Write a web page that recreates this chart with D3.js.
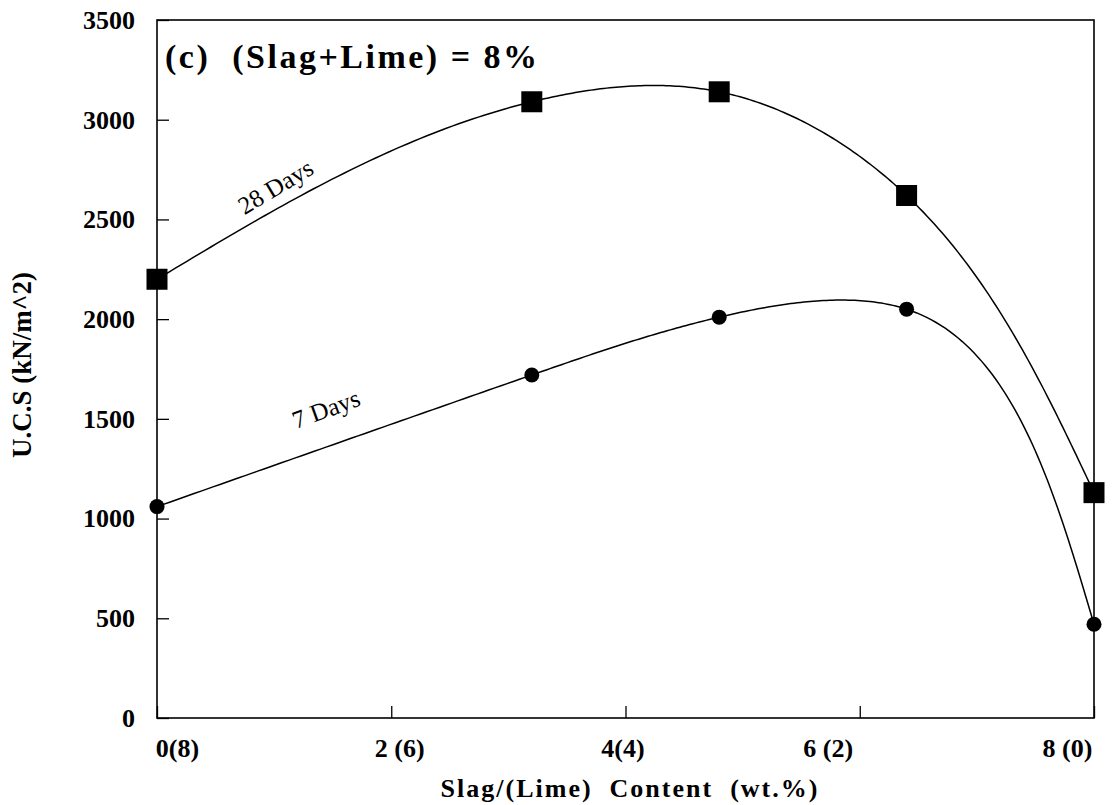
<!DOCTYPE html>
<html>
<head>
<meta charset="utf-8">
<script src="https://cdn.jsdelivr.net/npm/d3@7"></script>
<style>
  html, body { margin: 0; padding: 0; background: #fff; }
  svg { display: block; }
  text { font-family: "Liberation Serif", "Times New Roman", serif; fill: #000; }
</style>
</head>
<body>
<svg id="chart" width="1114" height="805"></svg>
<script>
// Slag content (wt.%) — lime content is 8 minus this
const slagContent = [0, 3.2, 4.8, 6.4, 8];
const ucs28Days = [2200, 3090, 3140, 2620, 1130];
const ucs7Days = [1060, 1720, 2010, 2050, 470];
const xTickValues = [0, 2, 4, 6, 8];
const xTickLabels = ["0(8)", "2 (6)", "4(4)", "6 (2)", "8 (0)"];
const yTickValues = [0, 500, 1000, 1500, 2000, 2500, 3000, 3500];

// horizontal nudge of each x tick label relative to its tick
const xLabelShift = [20, 8, -3, -32, -27];
const SERIF = "Liberation Serif, Times New Roman, serif";

const svg = d3.select("#chart");

const x = d3.scaleLinear().domain([0, 8]).range([157, 1094]);
const y = d3.scaleLinear().domain([0, 3500]).range([718, 20]);

// frame
svg.append("rect")
  .attr("x", x(0)).attr("y", y(3500))
  .attr("width", x(8) - x(0)).attr("height", y(0) - y(3500))
  .attr("fill", "none").attr("stroke", "#000").attr("stroke-width", 1.6);

// axes with inward ticks
const xAxis = svg.append("g").attr("transform", `translate(0,${y(0)})`)
  .call(d3.axisBottom(x).tickValues(xTickValues).tickSize(-12).tickPadding(0)
    .tickFormat((d, i) => xTickLabels[i]));
xAxis.select(".domain").remove();
xAxis.selectAll("text")
  .attr("y", 39).attr("dy", null)
  .attr("dx", (d, i) => xLabelShift[i])
  .attr("font-size", 26).attr("font-weight", "bold")
  .style("font-family", SERIF);
xAxis.selectAll("line").attr("stroke-width", 1.3);

const yAxis = svg.append("g").attr("transform", `translate(${x(0)},0)`)
  .call(d3.axisLeft(y).tickValues(yTickValues).tickSize(-12).tickPadding(22)
    .tickFormat(d3.format("d")));
yAxis.select(".domain").remove();
yAxis.selectAll("text").attr("font-size", 26).attr("font-weight", "bold")
  .style("font-family", SERIF);
yAxis.selectAll("line").attr("stroke-width", 1.3);

// parametric natural cubic spline (chord-length knots) through screen points
function splinePoints(pts, steps) {
  const n = pts.length;
  const t = [0];
  for (let i = 1; i < n; i++) {
    t.push(t[i - 1] + Math.hypot(pts[i][0] - pts[i - 1][0], pts[i][1] - pts[i - 1][1]));
  }
  function secondDerivs(v) {
    const h = d3.range(n - 1).map(i => t[i + 1] - t[i]);
    const a = new Array(n).fill(0), b = new Array(n).fill(1), c = new Array(n).fill(0), r = new Array(n).fill(0);
    for (let i = 1; i < n - 1; i++) {
      a[i] = h[i - 1];
      b[i] = 2 * (h[i - 1] + h[i]);
      c[i] = h[i];
      r[i] = 6 * ((v[i + 1] - v[i]) / h[i] - (v[i] - v[i - 1]) / h[i - 1]);
    }
    // Thomas algorithm
    for (let i = 1; i < n; i++) {
      const m = a[i] / b[i - 1];
      b[i] -= m * c[i - 1];
      r[i] -= m * r[i - 1];
    }
    const M = new Array(n).fill(0);
    M[n - 1] = r[n - 1] / b[n - 1];
    for (let i = n - 2; i >= 0; i--) M[i] = (r[i] - c[i] * M[i + 1]) / b[i];
    return M;
  }
  const xs = pts.map(p => p[0]), ys = pts.map(p => p[1]);
  const Mx = secondDerivs(xs), My = secondDerivs(ys);
  const out = [];
  for (let i = 0; i < n - 1; i++) {
    const h = t[i + 1] - t[i];
    for (let k = 0; k < steps; k++) {
      const tt = t[i] + h * k / steps;
      const A = (t[i + 1] - tt) / h, B = (tt - t[i]) / h;
      const f = (v, M) => A * v[i] + B * v[i + 1] + ((A * A * A - A) * M[i] + (B * B * B - B) * M[i + 1]) * h * h / 6;
      out.push([f(xs, Mx), f(ys, My)]);
    }
  }
  out.push(pts[n - 1]);
  return out;
}

const s28 = slagContent.map((v, i) => [v, ucs28Days[i]]);
const s7 = slagContent.map((v, i) => [v, ucs7Days[i]]);
const toScreen = s => s.map(d => [x(d[0]), y(d[1])]);
const line = d3.line();

[s28, s7].forEach(s => {
  svg.append("path").attr("d", line(splinePoints(toScreen(s), 60)))
    .attr("fill", "none").attr("stroke", "#000").attr("stroke-width", 1.5);
});

// markers
const sq = 21;
svg.selectAll(".sq").data(s28).enter().append("rect")
  .attr("x", d => x(d[0]) - sq / 2).attr("y", d => y(d[1]) - sq / 2)
  .attr("width", sq).attr("height", sq).attr("fill", "#000");
svg.selectAll(".ci").data(s7).enter().append("circle")
  .attr("cx", d => x(d[0])).attr("cy", d => y(d[1])).attr("r", 7.5).attr("fill", "#000");

// curve labels
svg.append("text").attr("transform", "translate(280,194) rotate(-31)")
  .attr("text-anchor", "middle").attr("font-size", 25).text("28 Days");
svg.append("text").attr("transform", "translate(329,417) rotate(-20)")
  .attr("text-anchor", "middle").attr("font-size", 25).text("7 Days");

// panel title
svg.append("text").attr("x", 165).attr("y", 68)
  .attr("font-size", 34).attr("font-weight", "bold").attr("letter-spacing", 2.5)
  .attr("xml:space", "preserve").text("(c)  (Slag+Lime) = 8%");

// axis titles
svg.append("text").attr("x", 630).attr("y", 797).attr("text-anchor", "middle")
  .attr("font-size", 26).attr("font-weight", "bold").attr("letter-spacing", 2)
  .attr("xml:space", "preserve").text("Slag/(Lime)  Content  (wt.%)");
svg.append("text").attr("transform", "translate(31,365) rotate(-90)")
  .attr("text-anchor", "middle").attr("font-size", 27).attr("font-weight", "bold")
  .text("U.C.S (kN/m^2)");
</script>
</body>
</html>
